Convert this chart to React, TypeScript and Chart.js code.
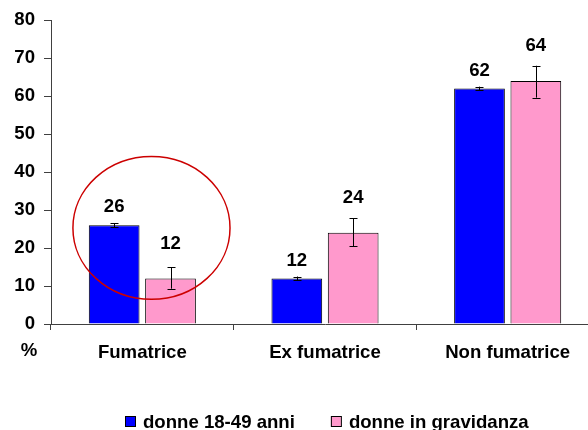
import React, { useEffect, useRef } from "react";
import { Chart, registerables } from "chart.js";

Chart.register(...registerables);

// ---- data ----
const categories = ["Fumatrice", "Ex fumatrice", "Non fumatrice"];
const seriesNames = ["donne 18-49 anni", "donne in gravidanza"];
const womenValues = [26, 12, 62];
const pregnantValues = [12, 24, 64];
const womenErrLow = [25.5, 11.5, 61.5];
const womenErrHigh = [26.5, 12.5, 62.5];
const pregnantErrLow = [9.3, 20.5, 59.6];
const pregnantErrHigh = [15, 27.8, 68];
const yMin = 0;
const yMax = 80;
const yStep = 10;
const yUnitLabel = "%";
// highlight ellipse (data units: category index offset, value)
const highlightCategory = 0;
const highlightCategoryOffset = 0.05;
const highlightCenterValue = 25.3;
const highlightHalfWidthCategories = 0.43;
const highlightHalfHeightValue = 18.8;

// ---- styles ----
const FONT = "'Liberation Sans', Arial, sans-serif";
const FONT_SIZE = 18.6;
const BLUE = "#0000FF";
const PINK = "#FF99CC";
const AXIS = "#404040";
const labelOffsets = [18, 35];

const errLows = [womenErrLow, pregnantErrLow];
const errHighs = [womenErrHigh, pregnantErrHigh];

const errorBarPlugin = {
  id: "errorBars",
  afterDatasetsDraw(chart: any) {
    const ctx = chart.ctx;
    const y = chart.scales.y;
    ctx.save();
    ctx.strokeStyle = "#000";
    ctx.lineWidth = 1;
    chart.data.datasets.forEach((_: any, i: number) => {
      const meta = chart.getDatasetMeta(i);
      meta.data.forEach((el: any, j: number) => {
        const x = Math.round(el.x) + 0.5;
        const yl = y.getPixelForValue(errLows[i][j]);
        const yh = y.getPixelForValue(errHighs[i][j]);
        ctx.beginPath();
        ctx.moveTo(x, yl);
        ctx.lineTo(x, yh);
        ctx.moveTo(x - 4, Math.round(yl) + 0.5);
        ctx.lineTo(x + 4, Math.round(yl) + 0.5);
        ctx.moveTo(x - 4, Math.round(yh) + 0.5);
        ctx.lineTo(x + 4, Math.round(yh) + 0.5);
        ctx.stroke();
      });
    });
    ctx.restore();
  },
};

const dataLabelPlugin = {
  id: "dataLabels",
  afterDatasetsDraw(chart: any) {
    const ctx = chart.ctx;
    ctx.save();
    ctx.font = `bold ${FONT_SIZE}px ${FONT}`;
    ctx.fillStyle = "#000";
    ctx.textAlign = "center";
    ctx.textBaseline = "middle";
    chart.data.datasets.forEach((ds: any, i: number) => {
      const meta = chart.getDatasetMeta(i);
      meta.data.forEach((el: any, j: number) => {
        ctx.fillText(String(ds.data[j]), el.x, el.y - labelOffsets[i]);
      });
    });
    ctx.restore();
  },
};

const extrasPlugin = {
  id: "extras",
  afterDraw(chart: any) {
    const ctx = chart.ctx;
    const xs = chart.scales.x;
    const ys = chart.scales.y;
    const catW = (xs.right - xs.left) / categories.length;
    // highlight ellipse
    const cx = xs.getPixelForValue(highlightCategory) + highlightCategoryOffset * catW;
    const cy = ys.getPixelForValue(highlightCenterValue);
    const rx = highlightHalfWidthCategories * catW;
    const ry = Math.abs(ys.getPixelForValue(highlightHalfHeightValue) - ys.getPixelForValue(0));
    ctx.save();
    ctx.strokeStyle = "#CC0000";
    ctx.lineWidth = 1.5;
    ctx.beginPath();
    ctx.ellipse(cx, cy, rx, ry, 0, 0, Math.PI * 2);
    ctx.stroke();

    // unit label
    ctx.font = `bold ${FONT_SIZE}px ${FONT}`;
    ctx.fillStyle = "#000";
    ctx.textAlign = "center";
    ctx.textBaseline = "middle";
    ctx.fillText(yUnitLabel, 29, 351);

    // legend
    ctx.textAlign = "left";
    ctx.textBaseline = "alphabetic";
    let x = 125;
    const boxTop = 416.5;
    chart.data.datasets.forEach((ds: any) => {
      ctx.fillStyle = ds.backgroundColor;
      ctx.fillRect(x, boxTop, 10, 10);
      ctx.strokeStyle = "#000";
      ctx.lineWidth = 1;
      ctx.strokeRect(x + 0.5, boxTop, 10, 10);
      ctx.fillStyle = "#000";
      const tx = x + 18;
      ctx.fillText(ds.label, tx, 427.5);
      x = tx + ctx.measureText(ds.label).width + 36;
    });
    ctx.restore();
  },
};

export default function App() {
  const ref = useRef<HTMLCanvasElement | null>(null);
  useEffect(() => {
    if (!ref.current) return;
    const chart = new Chart(ref.current, {
      type: "bar",
      data: {
        labels: categories,
        datasets: [
          {
            label: seriesNames[0],
            data: womenValues,
            backgroundColor: BLUE,
            borderColor: "#000",
            borderWidth: 1,
            categoryPercentage: 0.617,
            barPercentage: 0.9,
          },
          {
            label: seriesNames[1],
            data: pregnantValues,
            backgroundColor: PINK,
            borderColor: "#000",
            borderWidth: 1,
            categoryPercentage: 0.617,
            barPercentage: 0.9,
          },
        ],
      },
      options: {
        responsive: false,
        animation: false,
        devicePixelRatio: 1,
        layout: { padding: { top: 18, left: 0, right: 0, bottom: 0 } },
        plugins: {
          legend: { display: false },
          tooltip: { enabled: false },
        },
        scales: {
          x: {
            grid: {
              display: true,
              drawOnChartArea: false,
              drawTicks: true,
              tickLength: 6,
              color: AXIS,
              offset: true,
            },
            border: { display: true, color: AXIS, width: 1 },
            ticks: {
              color: "#000",
              font: { family: FONT, size: FONT_SIZE, weight: "bold" },
              padding: 12,
              maxRotation: 0,
            },
            afterFit(scale: any) {
              scale.height = 106;
            },
          },
          y: {
            min: yMin,
            max: yMax,
            grid: {
              display: true,
              drawOnChartArea: false,
              drawTicks: true,
              tickLength: 7,
              color: AXIS,
            },
            border: { display: true, color: AXIS, width: 1 },
            ticks: {
              stepSize: yStep,
              color: "#000",
              font: { family: FONT, size: FONT_SIZE, weight: "bold" },
              padding: 9,
            },
            afterFit(scale: any) {
              scale.width = 51;
            },
          },
        },
      },
      plugins: [errorBarPlugin, dataLabelPlugin, extrasPlugin],
    });
    return () => chart.destroy();
  }, []);

  return (
    <div
      style={{
        position: "fixed",
        left: 0,
        top: 0,
        width: 588,
        height: 430,
        overflow: "hidden",
        background: "#fff",
      }}
    >
      <canvas ref={ref} width={599} height={430} style={{ display: "block" }} />
    </div>
  );
}
